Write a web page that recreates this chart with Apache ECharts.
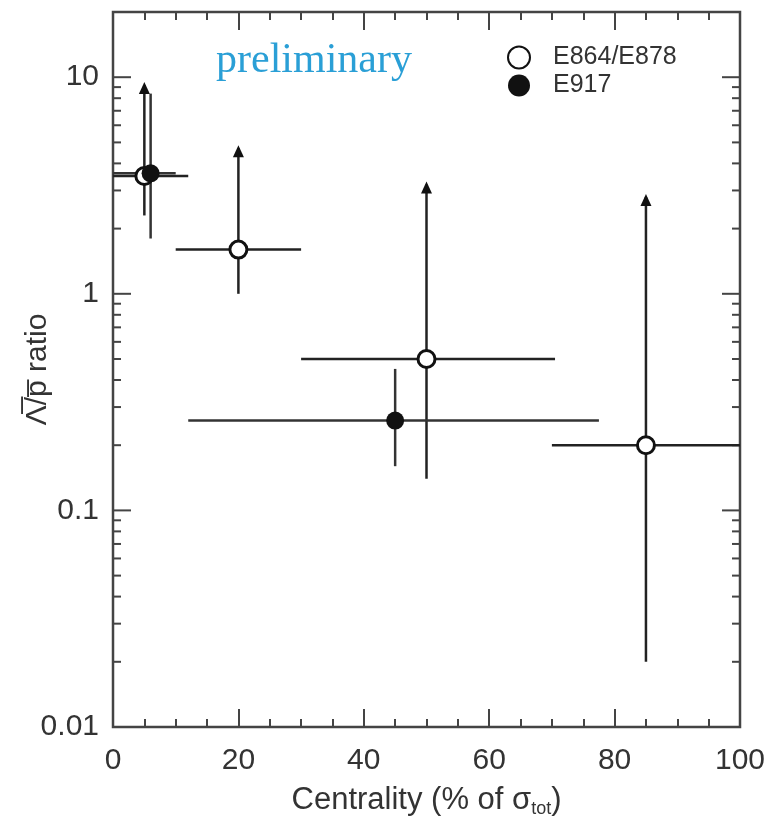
<!DOCTYPE html>
<html>
<head>
<meta charset="utf-8">
<script src="https://cdn.jsdelivr.net/npm/echarts@6/dist/echarts.min.js"></script>
<style>
  html, body { margin: 0; padding: 0; background: #fff; }
  #main { width: 766px; height: 820px; }
</style>
</head>
<body>
<div id="main"></div>
<script>
// E864/E878 (open circles)
const openX = [5, 20, 50, 85];
const openY = [3.5, 1.6, 0.5, 0.2];
const openXLo = [0, 10, 30, 70];
const openXHi = [12, 30, 70.5, 100];
const openYLo = [2.3, 1.0, 0.14, 0.02];
const openYHi = [9.2, 4.7, 3.2, 2.8];

// E917 (filled circles)
const fillX = [6, 45];
const fillY = [3.6, 0.26];
const fillXLo = [0, 12];
const fillXHi = [10, 77.5];
const fillYLo = [1.8, 0.16];
const fillYHi = [8.4, 0.45];

// upper error ends drawn with an arrowhead
const openArrow = [1, 1, 1, 1];
const fillArrow = [0, 0];

const xTicks = [0, 20, 40, 60, 80, 100];
const yTickLabels = ['0.01', '0.1', '1', '10'];
const yMinorTicks = [];
[0.01, 0.1, 1, 10].forEach(function (d) {
  for (let k = 1; k <= 9; k++) {
    if (d * k <= 20) yMinorTicks.push(+(d * k).toPrecision(3));
  }
});
yMinorTicks.push(20);

function rows(x, y, xl, xh, yl, yh, ar) {
  return x.map(function (v, i) { return [v, y[i], xl[i], xh[i], yl[i], yh[i], ar[i]]; });
}

function makeErr(color, width) {
  return function (params, api) {
    const x = api.value(0), y = api.value(1);
    const c = api.coord([x, y]);
    const l = api.coord([api.value(2), y]);
    const r = api.coord([api.value(3), y]);
    const lo = api.coord([x, api.value(4)]);
    const hi = api.coord([x, api.value(5)]);
    const st = { stroke: color, lineWidth: width };
    const children = [
      { type: 'line', shape: { x1: l[0], y1: c[1], x2: r[0], y2: c[1] }, style: st },
      { type: 'line', shape: { x1: c[0], y1: lo[1], x2: c[0], y2: hi[1] }, style: st }
    ];
    if (api.value(6)) {
      children.push({
        type: 'polygon',
        shape: { points: [[c[0], hi[1] - 3], [c[0] - 5.5, hi[1] + 9], [c[0] + 5.5, hi[1] + 9]] },
        style: { fill: '#111' }
      });
    }
    return { type: 'group', children: children };
  };
}

function renderYTick(params, api) {
  const v = api.value(0);
  const cs = params.coordSys;
  const p = api.coord([0, v]);
  const e = Math.log10(v);
  const major = Math.abs(e - Math.round(e)) < 1e-6;
  const len = major ? 18 : 8;
  const st = { stroke: '#444', lineWidth: 2 };
  return {
    type: 'group',
    children: [
      { type: 'line', shape: { x1: cs.x, y1: p[1], x2: cs.x + len, y2: p[1] }, style: st },
      { type: 'line', shape: { x1: cs.x + cs.width - len, y1: p[1], x2: cs.x + cs.width, y2: p[1] }, style: st }
    ]
  };
}

const chart = echarts.init(document.getElementById('main'));

const xAxisCommon = {
  type: 'value',
  min: 0,
  max: 100,
  interval: 20,
  axisLine: { show: false },
  axisTick: { show: true, inside: true, length: 18, lineStyle: { color: '#444', width: 2 } },
  minorTick: { show: true, splitNumber: 4, length: 8, lineStyle: { color: '#444', width: 2 } },
  splitLine: { show: false }
};

chart.setOption({
  backgroundColor: '#fff',
  animation: false,
  title: {
    text: 'preliminary',
    left: 211,
    top: 35,
    textStyle: { fontFamily: 'Liberation Serif', fontSize: 42, fontWeight: 'normal', color: '#2a9fd6' }
  },
  legend: {
    orient: 'vertical',
    left: 502,
    top: 40,
    itemGap: 3,
    itemWidth: 22,
    itemHeight: 22,
    data: ['E864/E878', 'E917'],
    textStyle: { fontFamily: 'Liberation Sans', fontSize: 25, color: '#333', padding: [0, 0, 0, 18] }
  },
  grid: {
    left: 113,
    right: 26,
    top: 12,
    bottom: 93,
    outerBoundsMode: 'none',
    show: true,
    borderColor: '#444',
    borderWidth: 2.5
  },
  xAxis: [
    Object.assign({}, xAxisCommon, {
      position: 'bottom',
      name: 'Centrality (% of σ{sub|tot})',
      nameLocation: 'middle',
      nameGap: 55,
      nameMoveOverlap: false,
      nameTextStyle: {
        fontFamily: 'Liberation Sans',
        fontSize: 31,
        color: '#333',
        rich: { sub: { fontFamily: 'Liberation Sans', fontSize: 18, color: '#333', padding: [18, 0, 0, 0] } }
      },
      axisLabel: {
        margin: 19,
        fontFamily: 'Liberation Sans',
        fontSize: 30,
        color: '#333',
        formatter: function (v) { return xTicks.indexOf(v) >= 0 ? String(v) : ''; }
      }
    }),
    Object.assign({}, xAxisCommon, { position: 'top', axisLabel: { show: false } })
  ],
  yAxis: {
    type: 'log',
    logBase: 10,
    min: 0.01,
    max: 20,
    name: 'Λ̅/p̅ ratio',
    nameLocation: 'middle',
    nameGap: 60,
    nameMoveOverlap: false,
    nameRotate: 90,
    nameTextStyle: { fontFamily: 'Liberation Sans', fontSize: 30, color: '#333' },
    axisLine: { show: false },
    axisTick: { show: false },
    splitLine: { show: false },
    axisLabel: {
      margin: 14,
      fontFamily: 'Liberation Sans',
      fontSize: 30,
      color: '#333',
      formatter: function (v) {
        const e = Math.log10(v);
        const r = Math.round(e);
        return Math.abs(e - r) < 1e-6 && r >= -2 && r <= 1 ? yTickLabels[r + 2] : '';
      }
    }
  },
  series: [
    {
      type: 'custom',
      silent: true,
      renderItem: renderYTick,
      encode: { y: 0 },
      data: yMinorTicks.map(function (v) { return [v]; }),
      z: 1
    },
    {
      type: 'custom',
      renderItem: makeErr('#222', 2.5),
      encode: { x: [0, 2, 3], y: [1, 4, 5] },
      data: rows(openX, openY, openXLo, openXHi, openYLo, openYHi, openArrow),
      z: 2
    },
    {
      type: 'custom',
      renderItem: makeErr('#333', 2.5),
      encode: { x: [0, 2, 3], y: [1, 4, 5] },
      data: rows(fillX, fillY, fillXLo, fillXHi, fillYLo, fillYHi, fillArrow),
      z: 2
    },
    {
      name: 'E864/E878',
      type: 'scatter',
      symbol: 'circle',
      symbolSize: 17,
      itemStyle: { color: '#fff', borderColor: '#111', borderWidth: 3, opacity: 1 },
      data: openX.map(function (v, i) { return [v, openY[i]]; }),
      z: 3
    },
    {
      name: 'E917',
      type: 'scatter',
      symbol: 'circle',
      symbolSize: 18,
      itemStyle: { color: '#111', opacity: 1 },
      data: fillX.map(function (v, i) { return [v, fillY[i]]; }),
      z: 4
    }
  ]
});
</script>
</body>
</html>
